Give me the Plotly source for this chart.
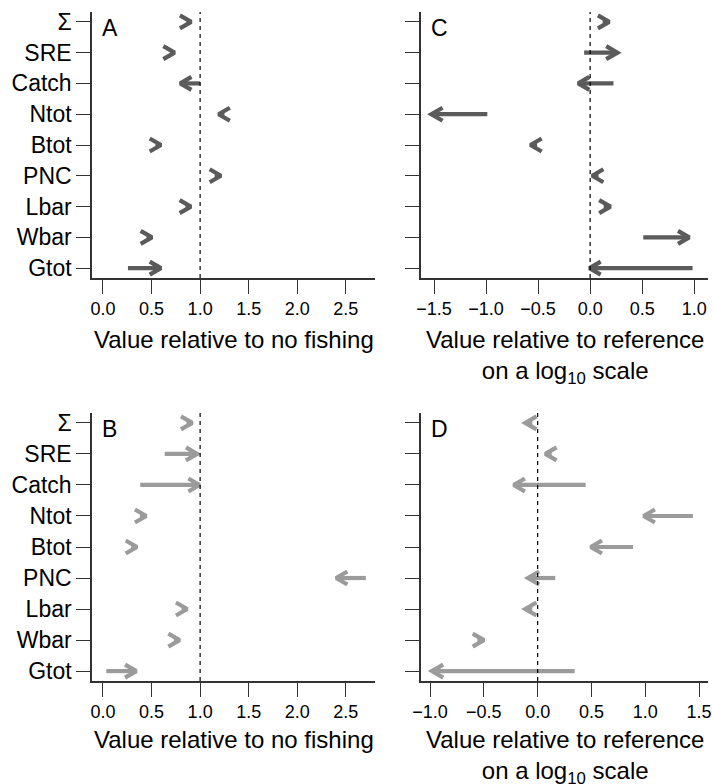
import math
import plotly.graph_objects as go

W, H = 712, 784

categories = ["Σ", "SRE", "Catch", "Ntot", "Btot", "PNC", "Lbar", "Wbar", "Gtot"]

# Panel A: value relative to no fishing (start -> end)
a_start = [0.86, 0.69, 1.00, 1.25, 0.54, 1.15, 0.85, 0.45, 0.257]
a_end = [0.908, 0.737, 0.795, 1.19, 0.597, 1.214, 0.905, 0.504, 0.597]
# Panel C: log10 value relative to reference
c_start = [0.12, -0.058, 0.224, -0.988, -0.51, 0.08, 0.13, 0.51, 0.984]
c_end = [0.183, 0.262, -0.115, -1.526, -0.574, 0.019, 0.195, 0.952, -0.007]
# Panel B
b_start = [0.86, 0.635, 0.384, 0.38, 0.29, 2.706, 0.81, 0.73, 0.034]
b_end = [0.919, 0.970, 0.995, 0.445, 0.35, 2.40, 0.867, 0.789, 0.343]
# Panel D
d_start = [-0.05, 0.13, 0.446, 1.443, 0.886, 0.164, -0.05, -0.56, 0.344]
d_end = [-0.115, 0.071, -0.223, 0.985, 0.493, -0.09, -0.115, -0.499, -0.982]

lin_ticks = [0.0, 0.5, 1.0, 1.5, 2.0, 2.5]
lin_text = ["0.0", "0.5", "1.0", "1.5", "2.0", "2.5"]
c_ticks = [-1.5, -1.0, -0.5, 0.0, 0.5, 1.0]
c_text = ["\u22121.5", "\u22121.0", "\u22120.5", "0.0", "0.5", "1.0"]
d_ticks = [-1.0, -0.5, 0.0, 0.5, 1.0, 1.5]
d_text = ["\u22121.0", "\u22120.5", "0.0", "0.5", "1.0", "1.5"]

DARK = "#5b5b5b"
LIGHT = "#9b9b9b"
FONT = "Liberation Sans, Arial, Helvetica, sans-serif"
AXC = "#333333"

# panel geometry in pixels: (left, right, top, bottom)
panels = [
    dict(key="", box=(92, 375, 12, 278), xr=[-0.113, 2.80], start=a_start, end=a_end,
         color=DARK, ticks=lin_ticks, text=lin_text, ref=1.0, letter="A", ylab=True,
         title="Value relative to no fishing", toff=46),
    dict(key="2", box=(421, 708, 12, 278), xr=[-1.625, 1.132], start=c_start, end=c_end,
         color=DARK, ticks=c_ticks, text=c_text, ref=0.0, letter="C", ylab=False,
         title="Value relative to reference<br>on a log<sub>10</sub> scale", toff=46),
    dict(key="3", box=(92, 375, 413, 681), xr=[-0.113, 2.80], start=b_start, end=b_end,
         color=LIGHT, ticks=lin_ticks, text=lin_text, ref=1.0, letter="B", ylab=True,
         title="Value relative to no fishing", toff=43),
    dict(key="4", box=(421, 708, 413, 681), xr=[-1.084, 1.583], start=d_start, end=d_end,
         color=LIGHT, ticks=d_ticks, text=d_text, ref=0.0, letter="D", ylab=False,
         title="Value relative to reference<br>on a log<sub>10</sub> scale", toff=43),
]

yvals = [9 - i for i in range(len(categories))]
YR = [0.68, 9.32]
HEAD = 13.0
ANG = math.radians(30)

fig = go.Figure()
annotations = []
shapes = []
layout = {}

for p in panels:
    l, r, t, b = p["box"]
    k = p["key"]
    xname, yname = "x" + k, "y" + k
    pxu_x = (r - l) / (p["xr"][1] - p["xr"][0])
    pxu_y = (b - t) / (YR[1] - YR[0])
    hx = HEAD * math.cos(ANG) / pxu_x
    hy = HEAD * math.sin(ANG) / pxu_y
    xs, ys = [], []
    for x0, x1, y in zip(p["start"], p["end"], yvals):
        d = 1 if x1 >= x0 else -1
        xs += [x0, x1, None, x1 - d * hx, x1, x1 - d * hx, None]
        ys += [y, y, None, y + hy, y, y - hy, None]
    fig.add_trace(go.Scatter(x=xs, y=ys, xaxis=xname, yaxis=yname, mode="lines",
                             line=dict(color=p["color"], width=4.2),
                             hoverinfo="skip", showlegend=False))
    shapes.append(dict(type="line", xref=xname, yref=yname + " domain",
                       x0=p["ref"], x1=p["ref"], y0=0, y1=1,
                       line=dict(color="black", width=1.2, dash="4px,4px")))
    layout["xaxis" + k] = dict(
        domain=[l / W, r / W], range=p["xr"], anchor=yname, automargin=False,
        showline=True, linecolor=AXC, linewidth=1.5, mirror=False,
        ticks="outside", ticklen=14, tickwidth=1.3, tickcolor=AXC,
        tickvals=p["ticks"], ticktext=p["text"], ticklabeloverflow="allow",
        tickfont=dict(family=FONT, size=18, color="black"),
        showgrid=False, zeroline=False, fixedrange=True)
    layout["yaxis" + k] = dict(
        domain=[1 - b / H, 1 - t / H], range=YR, anchor=xname, automargin=False,
        showline=True, linecolor=AXC, linewidth=1.5, mirror=False,
        ticks="outside", ticklen=14, tickwidth=1.3, tickcolor=AXC,
        tickvals=yvals, ticktext=categories, showticklabels=p["ylab"],
        tickfont=dict(family=FONT, size=23, color="black"),
        showgrid=False, zeroline=False, fixedrange=True)
    annotations.append(dict(text=p["letter"], xref="paper", yref="paper",
                            x=(l + 8) / W, y=1 - (t + 1) / H,
                            xanchor="left", yanchor="top", showarrow=False,
                            font=dict(family=FONT, size=23, color="black")))
    annotations.append(dict(text=p["title"], xref="paper", yref="paper",
                            x=(l + r) / 2 / W, y=1 - (b + p["toff"]) / H,
                            xanchor="center", yanchor="top", showarrow=False,
                            font=dict(family=FONT, size=24, color="black")))

fig.update_layout(
    template="none",
    width=W, height=H, margin=dict(l=0, r=0, t=0, b=0, autoexpand=False),
    paper_bgcolor="white", plot_bgcolor="white",
    shapes=shapes, annotations=annotations, **layout)

fig.write_html("out.html")
